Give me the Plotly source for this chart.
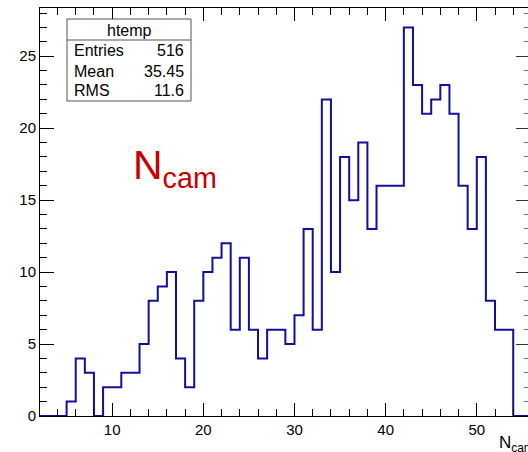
import plotly.graph_objects as go

# ---- data ----
bin_start = 2          # lower edge of first bin
bin_width = 1
counts = [0, 0, 0,
          1, 4, 3, 0, 2, 2, 3, 3, 5,
          8, 9, 10, 4, 2,
          8, 10, 11, 12, 6,
          11, 6, 4, 6, 6,
          5, 7, 13, 6, 22,
          10, 18, 15, 19, 13,
          16, 16, 16, 27, 23,
          21, 22, 23, 21, 16,
          13, 18, 8, 6, 6,
          0, 0]
stats_title = "htemp"
stats_labels = ["Entries", "Mean", "RMS"]
stats_values = ["516", "35.45", "11.6"]
x_range = [2.08, 55.62]
y_range = [0, 28.35]

# ---- layout geometry (pixels) ----
W, H = 528, 452
L, R, T, B = 40, 0, 8, 36
PW, PH = W - L - R, H - T - B


def px(x):
    return (x - L) / PW


def py(y):
    return (H - B - y) / PH


edges = [bin_start + i * bin_width for i in range(len(counts) + 1)]
yvals = counts + [counts[-1]]

FONT = "Liberation Sans, Arial, Helvetica, sans-serif"

fig = go.Figure()
fig.add_trace(go.Scatter(x=edges, y=yvals, mode="lines", line_shape="hv",
                         line=dict(color="#10109a", width=2), hoverinfo="skip",
                         showlegend=False))
# dummy trace to create right-hand tick axis
fig.add_trace(go.Scatter(x=[], y=[], yaxis="y2", showlegend=False, hoverinfo="skip"))

fig.update_layout(
    width=W, height=H,
    margin=dict(l=L, r=R, t=T, b=B, pad=0),
    paper_bgcolor="white", plot_bgcolor="white",
    showlegend=False,
    font=dict(family=FONT, size=15, color="black"),
    xaxis=dict(range=x_range, showline=True, linecolor="black", linewidth=1,
               mirror="ticks", ticks="inside", ticklen=13, tickwidth=1, tickcolor="black",
               tick0=0, dtick=10, showgrid=False, zeroline=False,
               minor=dict(ticks="inside", dtick=2, ticklen=7, tickcolor="black", showgrid=False),
               tickfont=dict(size=15, family=FONT, color="black")),
    yaxis=dict(range=y_range, showline=True, linecolor="black", linewidth=1,
               mirror=False, ticks="inside", ticklen=14, tickwidth=1, tickcolor="black",
               tick0=0, dtick=5, showgrid=False, zeroline=False,
               minor=dict(ticks="inside", dtick=1, ticklen=7, tickcolor="black", showgrid=False),
               tickfont=dict(size=15, family=FONT, color="black")),
    yaxis2=dict(range=y_range, overlaying="y", side="right", showline=False,
                ticks="inside", ticklen=12, tickwidth=1, tickcolor="#333",
                tick0=0, dtick=5, showticklabels=False, showgrid=False, zeroline=False,
                minor=dict(ticks="inside", dtick=1, ticklen=4, tickcolor="#777", showgrid=False)),
)

# stats box
bx0, bx1, by0, by1, bsep = 67, 191, 19, 101, 40
fig.add_shape(type="rect", xref="paper", yref="paper",
              x0=px(bx0), x1=px(bx1), y0=py(by1), y1=py(by0),
              line=dict(color="#555", width=1), fillcolor="white", layer="above")
fig.add_shape(type="line", xref="paper", yref="paper",
              x0=px(bx0), x1=px(bx1), y0=py(bsep), y1=py(bsep),
              line=dict(color="#555", width=1), layer="above")
fig.add_annotation(xref="paper", yref="paper", x=px(129), y=py(30), text=stats_title,
                   showarrow=False, xanchor="center", yanchor="middle",
                   font=dict(size=16, family=FONT, color="black"))
row_y = [51, 71.5, 90.5]
for lab, val, ry in zip(stats_labels, stats_values, row_y):
    fig.add_annotation(xref="paper", yref="paper", x=px(72), y=py(ry), text=lab,
                       showarrow=False, xanchor="left", yanchor="middle",
                       font=dict(size=16, family=FONT, color="black"))
    fig.add_annotation(xref="paper", yref="paper", x=px(186), y=py(ry), text=val,
                       showarrow=False, xanchor="right", yanchor="middle",
                       font=dict(size=16, family=FONT, color="black"))

# red label
fig.add_annotation(xref="paper", yref="paper", x=px(131), y=py(168), text="N<sub>cam</sub>",
                   showarrow=False, xanchor="left", yanchor="middle",
                   font=dict(size=41, family=FONT, color="#c80000"))

# x axis title (bottom right)
fig.add_annotation(xref="paper", yref="paper", x=px(497), y=py(444), text="N<sub>cam</sub>",
                   showarrow=False, xanchor="left", yanchor="middle",
                   font=dict(size=17, family=FONT, color="black"))

fig.write_html("out.html")
